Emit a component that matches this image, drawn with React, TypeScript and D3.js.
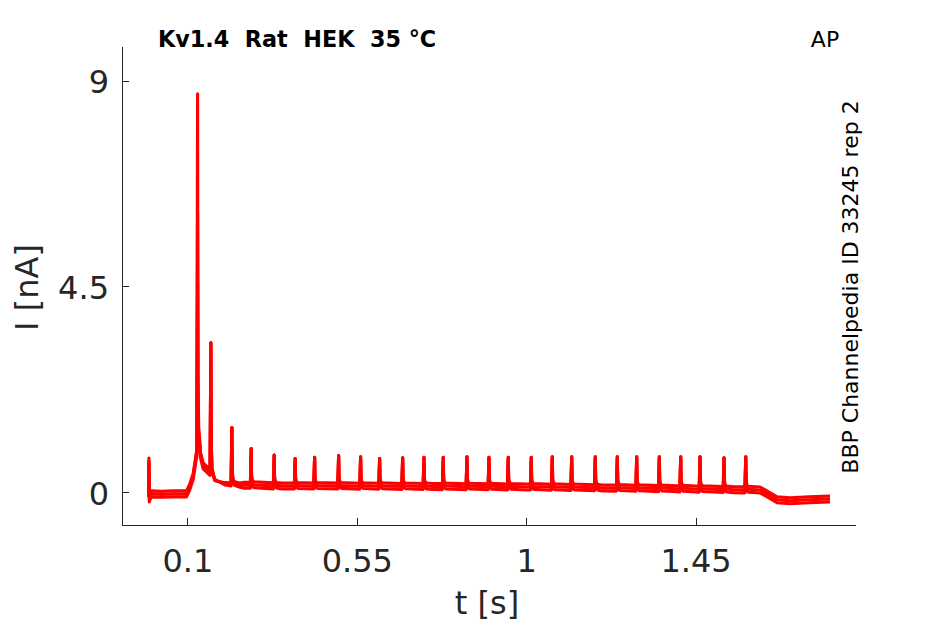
import React from 'react';
import * as d3 from 'd3';

// ---- data ----
const xTicks = [0.1, 0.55, 1, 1.45];
const yTicks = [0, 4.5, 9];
const xTickLabels = ['0.1', '0.55', '1', '1.45'];
const yTickLabels = ['0', '4.5', '9'];
const xDomain = [-0.075, 1.875];
const yDomain = [-0.7, 9.743];

// spike train (s, nA)
const spikeTimes = [0.1258, 0.1611, 0.2169, 0.2682, 0.3293, 0.3851, 0.4367, 0.5005, 0.5589, 0.6094, 0.6706,
  0.7272, 0.7785, 0.8414, 0.8999, 0.9512, 1.0123, 1.0681, 1.1197, 1.1824, 1.2409, 1.2924, 1.3525, 1.4093,
  1.4606, 1.5244, 1.5821];
const spikePeaks = [8.72, 3.28, 1.43, 0.97, 0.83, 0.75, 0.78, 0.82, 0.79, 0.75, 0.77,
  0.78, 0.78, 0.79, 0.78, 0.78, 0.78, 0.79, 0.79, 0.79, 0.79, 0.79, 0.79, 0.79,
  0.79, 0.77, 0.79];
// first (largest) spike differs between sweeps
const bigPeakBySweep = [8.72, 6.1, 4.6];

// shared baseline (s, nA), includes the stimulus artifact at t≈0
const baseT = [-0.0045, -0.0035, -0.0025, 0.002, 0.03, 0.06, 0.0965, 0.1053, 0.1141, 0.1225,
  0.25, 0.35, 0.5, 0.75, 1.0, 1.2, 1.4, 1.55, 1.62, 1.645, 1.665, 1.7, 1.75, 1.806];
const baseV = [-0.02, 0.7, -0.13, -0.02, -0.03, -0.02, -0.02, 0.14, 0.36, 0.82,
  0.17, 0.15, 0.15, 0.14, 0.13, 0.11, 0.09, 0.07, 0.065, -0.05, -0.15, -0.17, -0.15, -0.13];

// decay tail after the first spike, per sweep
const tailT = [0.1335, 0.1407, 0.1497, 0.1575, 0.1718, 0.1983, 0.2382];
const tailBySweep = [
  [0.95, 0.72, 0.65, 0.55, 0.36, 0.24, 0.19],
  [0.85, 0.57, 0.54, 0.45, 0.28, 0.2, 0.17],
  [0.7, 0.46, 0.39, 0.33, 0.2, 0.16, 0.15],
];
const sweepOffsets = [-0.065, 0, 0.065];

const W = 945;
const H = 624;
const left = 122, right = 856, top = 47, bottom = 525;
const textColor = '#262626';
const font = 'DejaVu Sans';

function buildSweep(si: number): [number, number][] {
  const off = sweepOffsets[si];
  let keys: [number, number][] = baseT.map((t, i) => [t, baseV[i]] as [number, number]);
  keys = keys.concat(tailT.map((t, i) => [t, tailBySweep[si][i]] as [number, number]));
  keys.sort((a, b) => a[0] - b[0]);
  const interp = d3.scaleLinear().domain(keys.map(k => k[0])).range(keys.map(k => k[1])).clamp(true);
  const pre = 0.0022, post = 0.007;
  const filtered = keys.filter(k => !spikeTimes.some(t => k[0] > t - pre && k[0] < t + post));
  const pts: [number, number][] = filtered.map(k => [k[0], k[1] + off] as [number, number]);
  spikeTimes.forEach((t, i) => {
    const peak = i === 0 ? bigPeakBySweep[si] : spikePeaks[i];
    const b0 = interp(t - pre) + off;
    const b1 = interp(t + post) + off;
    const a = peak - b0;
    pts.push([t - pre, b0]);
    pts.push([t, peak]);
    pts.push([t + 0.001, b0 + 0.22 * a]);
    pts.push([t + 0.003, b1 + 0.07 * a]);
    pts.push([t + post, b1 + 0.02 * a]);
  });
  pts.sort((a, b) => a[0] - b[0]);
  return pts;
}

export default function App() {
  const x = d3.scaleLinear().domain(xDomain).range([left, right]);
  const y = d3.scaleLinear().domain(yDomain).range([bottom, top]);
  const line = d3.line<[number, number]>().x(d => x(d[0])).y(d => y(d[1]));
  const sweeps = sweepOffsets.map((_, i) => buildSweep(i));

  return (
    <svg width={W} height={H} style={{ position: 'absolute', left: 0, top: 0, background: '#fff' }}>
      <rect x={0} y={0} width={W} height={H} fill="#fff" />
      {/* traces */}
      <g fill="none" stroke="#ff0000" strokeWidth={3.1} strokeLinejoin="round">
        {sweeps.map((s, i) => (
          <path key={i} d={line(s) || ''} />
        ))}
      </g>
      {/* axes */}
      <g stroke={textColor} strokeWidth={1} shapeRendering="crispEdges">
        <line x1={left} x2={left} y1={top} y2={bottom} />
        <line x1={left} x2={right} y1={bottom} y2={bottom} />
        {xTicks.map((t, i) => (
          <line key={'xt' + i} x1={x(t)} x2={x(t)} y1={bottom} y2={bottom - 7} />
        ))}
        {yTicks.map((t, i) => (
          <line key={'yt' + i} x1={left} x2={left + 7} y1={y(t)} y2={y(t)} />
        ))}
      </g>
      <g fill={textColor} fontFamily={font} fontSize={32}>
        {xTicks.map((t, i) => (
          <text key={'xl' + i} x={x(t)} y={571.5} textAnchor="middle">{xTickLabels[i]}</text>
        ))}
        {yTicks.map((t, i) => (
          <text key={'yl' + i} x={109} y={y(t) + 11.8} textAnchor="end">{yTickLabels[i]}</text>
        ))}
        <text x={487} y={613.5} textAnchor="middle">t [s]</text>
        <text transform="translate(37.5,287.5) rotate(-90)" textAnchor="middle">I [nA]</text>
      </g>
      <text x={158} y={47.3} fontFamily={font} fontWeight="bold" fontSize={22.3} fill="#000">
        {'Kv1.4\u00a0\u00a0Rat\u00a0\u00a0HEK\u00a0\u00a035 °C'}
      </text>
      <text x={825} y={46.5} fontFamily={font} fontSize={22} fill="#000" textAnchor="middle">AP</text>
      <text transform="translate(857.5,287) rotate(-90)" fontFamily={font} fontSize={22} fill="#000" textAnchor="middle">
        BBP Channelpedia ID 33245 rep 2
      </text>
    </svg>
  );
}
